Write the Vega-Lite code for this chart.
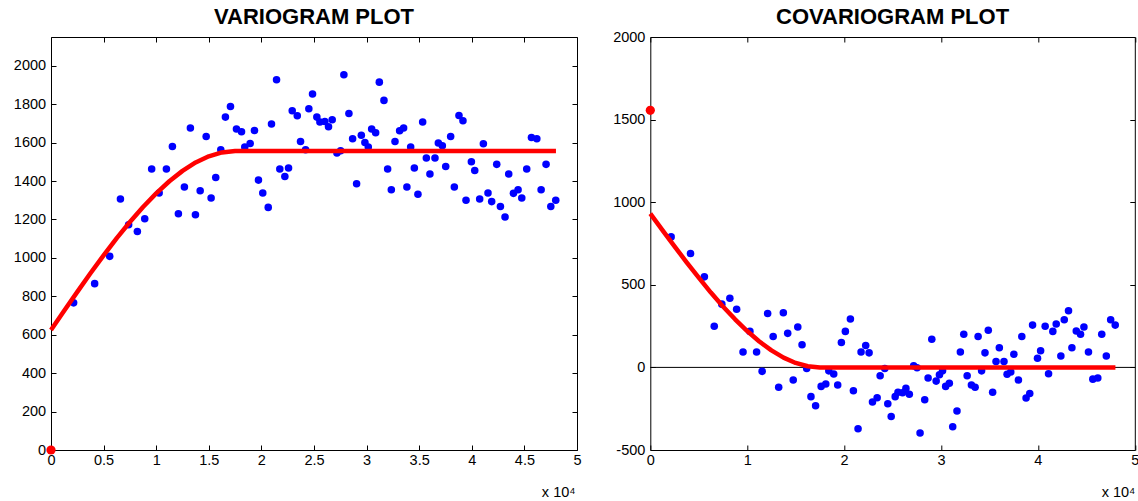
{
  "$schema": "https://vega.github.io/schema/vega-lite/v6.json",
  "background": "white",
  "padding": {"left": 12, "top": 5, "right": 0, "bottom": 0},
  "bounds": "flush",
  "spacing": 73.3,
  "config": {
    "font": "Liberation Sans",
    "view": {"stroke": "#000000", "strokeWidth": 1},
    "axis": {"grid": false, "domain": false, "tickColor": "#000000", "tickWidth": 1, "labelFont": "Liberation Sans", "labelFontSize": 14.5, "labelColor": "#000000", "labelFlush": false, "titleFont": "Liberation Sans", "titleFontWeight": "normal", "titleFontSize": 14.5, "titleColor": "#000000"},
    "title": {"font": "Liberation Sans", "fontSize": 22, "fontWeight": "bold", "color": "#000000", "anchor": "middle", "baseline": "alphabetic", "offset": 8}
  },
  "datasets": {
    "vario": [
      {"lag": 2150, "gamma": 766}, {"lag": 4150, "gamma": 866}, {"lag": 5580, "gamma": 1008}, {"lag": 6600, "gamma": 1307},
      {"lag": 7380, "gamma": 1173}, {"lag": 8210, "gamma": 1137}, {"lag": 8910, "gamma": 1204}, {"lag": 9570, "gamma": 1463},
      {"lag": 10280, "gamma": 1338}, {"lag": 10970, "gamma": 1463}, {"lag": 11540, "gamma": 1580}, {"lag": 12110, "gamma": 1230},
      {"lag": 12680, "gamma": 1369}, {"lag": 13250, "gamma": 1676}, {"lag": 13730, "gamma": 1225}, {"lag": 14180, "gamma": 1350},
      {"lag": 14750, "gamma": 1632}, {"lag": 15220, "gamma": 1312}, {"lag": 15660, "gamma": 1419}, {"lag": 16140, "gamma": 1563},
      {"lag": 16580, "gamma": 1733}, {"lag": 17060, "gamma": 1788}, {"lag": 17630, "gamma": 1671}, {"lag": 18110, "gamma": 1657},
      {"lag": 18420, "gamma": 1577}, {"lag": 18930, "gamma": 1596}, {"lag": 19340, "gamma": 1663}, {"lag": 19720, "gamma": 1405},
      {"lag": 20130, "gamma": 1338}, {"lag": 20650, "gamma": 1263}, {"lag": 20960, "gamma": 1697}, {"lag": 21440, "gamma": 1927},
      {"lag": 21750, "gamma": 1463}, {"lag": 22230, "gamma": 1424}, {"lag": 22580, "gamma": 1468}, {"lag": 22930, "gamma": 1766},
      {"lag": 23410, "gamma": 1740}, {"lag": 23720, "gamma": 1606}, {"lag": 24200, "gamma": 1563}, {"lag": 24510, "gamma": 1776},
      {"lag": 24860, "gamma": 1853}, {"lag": 25270, "gamma": 1733}, {"lag": 25560, "gamma": 1707}, {"lag": 26030, "gamma": 1710},
      {"lag": 26380, "gamma": 1683}, {"lag": 26730, "gamma": 1719}, {"lag": 27180, "gamma": 1546}, {"lag": 27530, "gamma": 1558},
      {"lag": 27840, "gamma": 1953}, {"lag": 28320, "gamma": 1752}, {"lag": 28670, "gamma": 1620}, {"lag": 29050, "gamma": 1386},
      {"lag": 29500, "gamma": 1639}, {"lag": 29840, "gamma": 1601}, {"lag": 30160, "gamma": 1577}, {"lag": 30480, "gamma": 1671},
      {"lag": 30860, "gamma": 1652}, {"lag": 31210, "gamma": 1915}, {"lag": 31650, "gamma": 1820}, {"lag": 32000, "gamma": 1463},
      {"lag": 32350, "gamma": 1355}, {"lag": 32700, "gamma": 1606}, {"lag": 33140, "gamma": 1662}, {"lag": 33520, "gamma": 1676},
      {"lag": 33830, "gamma": 1369}, {"lag": 34190, "gamma": 1577}, {"lag": 34540, "gamma": 1468}, {"lag": 34880, "gamma": 1331},
      {"lag": 35330, "gamma": 1707}, {"lag": 35680, "gamma": 1520}, {"lag": 36020, "gamma": 1437}, {"lag": 36500, "gamma": 1520},
      {"lag": 36820, "gamma": 1598}, {"lag": 37200, "gamma": 1584}, {"lag": 37520, "gamma": 1476}, {"lag": 37990, "gamma": 1632},
      {"lag": 38340, "gamma": 1369}, {"lag": 38780, "gamma": 1741}, {"lag": 39160, "gamma": 1714}, {"lag": 39450, "gamma": 1300},
      {"lag": 39960, "gamma": 1501}, {"lag": 40280, "gamma": 1455}, {"lag": 40750, "gamma": 1307}, {"lag": 41100, "gamma": 1594},
      {"lag": 41540, "gamma": 1338}, {"lag": 41890, "gamma": 1293}, {"lag": 42370, "gamma": 1487}, {"lag": 42720, "gamma": 1268},
      {"lag": 43160, "gamma": 1213}, {"lag": 43510, "gamma": 1437}, {"lag": 43960, "gamma": 1336}, {"lag": 44400, "gamma": 1355},
      {"lag": 44750, "gamma": 1312}, {"lag": 45220, "gamma": 1463}, {"lag": 45670, "gamma": 1627}, {"lag": 46180, "gamma": 1620},
      {"lag": 46590, "gamma": 1355}, {"lag": 47060, "gamma": 1487}, {"lag": 47510, "gamma": 1268}, {"lag": 47980, "gamma": 1300}
    ],
    "covario": [
      {"lag": 2150, "cov": 790}, {"lag": 4150, "cov": 690}, {"lag": 5580, "cov": 548}, {"lag": 6600, "cov": 249},
      {"lag": 7380, "cov": 383}, {"lag": 8210, "cov": 419}, {"lag": 8910, "cov": 352}, {"lag": 9570, "cov": 93},
      {"lag": 10280, "cov": 218}, {"lag": 10970, "cov": 93}, {"lag": 11540, "cov": -24}, {"lag": 12110, "cov": 326},
      {"lag": 12680, "cov": 187}, {"lag": 13250, "cov": -120}, {"lag": 13730, "cov": 331}, {"lag": 14180, "cov": 206},
      {"lag": 14750, "cov": -76}, {"lag": 15220, "cov": 244}, {"lag": 15660, "cov": 137}, {"lag": 16140, "cov": -7},
      {"lag": 16580, "cov": -177}, {"lag": 17060, "cov": -232}, {"lag": 17630, "cov": -115}, {"lag": 18110, "cov": -101},
      {"lag": 18420, "cov": -21}, {"lag": 18930, "cov": -40}, {"lag": 19340, "cov": -107}, {"lag": 19720, "cov": 151},
      {"lag": 20130, "cov": 218}, {"lag": 20650, "cov": 293}, {"lag": 20960, "cov": -141}, {"lag": 21440, "cov": -371},
      {"lag": 21750, "cov": 93}, {"lag": 22230, "cov": 132}, {"lag": 22580, "cov": 88}, {"lag": 22930, "cov": -210},
      {"lag": 23410, "cov": -184}, {"lag": 23720, "cov": -50}, {"lag": 24200, "cov": -7}, {"lag": 24510, "cov": -220},
      {"lag": 24860, "cov": -297}, {"lag": 25270, "cov": -177}, {"lag": 25560, "cov": -151}, {"lag": 26030, "cov": -154},
      {"lag": 26380, "cov": -127}, {"lag": 26730, "cov": -163}, {"lag": 27180, "cov": 10}, {"lag": 27530, "cov": -2},
      {"lag": 27840, "cov": -397}, {"lag": 28320, "cov": -196}, {"lag": 28670, "cov": -64}, {"lag": 29050, "cov": 170},
      {"lag": 29500, "cov": -83}, {"lag": 29840, "cov": -45}, {"lag": 30160, "cov": -21}, {"lag": 30480, "cov": -115},
      {"lag": 30860, "cov": -96}, {"lag": 31210, "cov": -359}, {"lag": 31650, "cov": -264}, {"lag": 32000, "cov": 93},
      {"lag": 32350, "cov": 201}, {"lag": 32700, "cov": -50}, {"lag": 33140, "cov": -106}, {"lag": 33520, "cov": -120},
      {"lag": 33830, "cov": 187}, {"lag": 34190, "cov": -21}, {"lag": 34540, "cov": 88}, {"lag": 34880, "cov": 225},
      {"lag": 35330, "cov": -151}, {"lag": 35680, "cov": 36}, {"lag": 36020, "cov": 119}, {"lag": 36500, "cov": 36},
      {"lag": 36820, "cov": -42}, {"lag": 37200, "cov": -28}, {"lag": 37520, "cov": 80}, {"lag": 37990, "cov": -76},
      {"lag": 38340, "cov": 187}, {"lag": 38780, "cov": -185}, {"lag": 39160, "cov": -158}, {"lag": 39450, "cov": 256},
      {"lag": 39960, "cov": 55}, {"lag": 40280, "cov": 101}, {"lag": 40750, "cov": 249}, {"lag": 41100, "cov": -38},
      {"lag": 41540, "cov": 218}, {"lag": 41890, "cov": 263}, {"lag": 42370, "cov": 69}, {"lag": 42720, "cov": 288},
      {"lag": 43160, "cov": 343}, {"lag": 43510, "cov": 119}, {"lag": 43960, "cov": 220}, {"lag": 44400, "cov": 201},
      {"lag": 44750, "cov": 244}, {"lag": 45220, "cov": 93}, {"lag": 45670, "cov": -71}, {"lag": 46180, "cov": -64},
      {"lag": 46590, "cov": 201}, {"lag": 47060, "cov": 69}, {"lag": 47510, "cov": 288}, {"lag": 47980, "cov": 256}
    ],
    "variomodel": [
      {"lag": 0, "gamma": 625}, {"lag": 1250, "gamma": 725}, {"lag": 2500, "gamma": 823}, {"lag": 3750, "gamma": 920},
      {"lag": 5000, "gamma": 1013}, {"lag": 6250, "gamma": 1103}, {"lag": 7500, "gamma": 1187}, {"lag": 8750, "gamma": 1265},
      {"lag": 10000, "gamma": 1336}, {"lag": 11250, "gamma": 1399}, {"lag": 12500, "gamma": 1453}, {"lag": 13750, "gamma": 1497},
      {"lag": 15000, "gamma": 1529}, {"lag": 16250, "gamma": 1549}, {"lag": 17500, "gamma": 1556}, {"lag": 48000, "gamma": 1556}
    ],
    "covmodel": [
      {"lag": 0, "cov": 931}, {"lag": 1250, "cov": 831}, {"lag": 2500, "cov": 733}, {"lag": 3750, "cov": 636},
      {"lag": 5000, "cov": 543}, {"lag": 6250, "cov": 453}, {"lag": 7500, "cov": 369}, {"lag": 8750, "cov": 291},
      {"lag": 10000, "cov": 220}, {"lag": 11250, "cov": 157}, {"lag": 12500, "cov": 103}, {"lag": 13750, "cov": 59},
      {"lag": 15000, "cov": 27}, {"lag": 16250, "cov": 7}, {"lag": 17500, "cov": 0}, {"lag": 48000, "cov": 0}
    ],
    "vario0": [{"lag": 0, "gamma": 0}],
    "cov0": [{"lag": 0, "cov": 1556}],
    "zero": [{"cov": 0}]
  },
  "hconcat": [
    {
      "width": 526,
      "height": 413,
      "title": {"text": "VARIOGRAM PLOT", "offset": 8},
      "resolve": {"axis": {"x": "independent", "y": "independent"}},
      "layer": [
        {
          "data": {"name": "vario"},
          "mark": {"type": "circle", "size": 57, "color": "#0000ff", "opacity": 1},
          "encoding": {
            "x": {"field": "lag", "type": "quantitative", "scale": {"domain": [0, 50000], "nice": false, "zero": false},
              "axis": {"orient": "bottom", "ticks": false, "labelPadding": 14, "labelBaseline": "alphabetic", "labelFlush": false,
                "values": [0, 5000, 10000, 15000, 20000, 25000, 30000, 35000, 40000, 45000, 50000],
                "labelExpr": "'' + datum.value / 10000",
                "title": "x 10⁴", "titleAnchor": "end", "titleAlign": "right", "titleBaseline": "alphabetic", "titleX": 524, "titleY": 46.5}},
            "y": {"field": "gamma", "type": "quantitative", "scale": {"domain": [0, 2150], "nice": false, "zero": false},
              "axis": {"orient": "left", "ticks": false, "labelPadding": 5.4, "labelFlush": false,
                "values": [0, 200, 400, 600, 800, 1000, 1200, 1400, 1600, 1800, 2000],
                "labelExpr": "'' + datum.value", "title": null}}
          }
        },
        {
          "data": {"name": "variomodel"},
          "mark": {"type": "line", "color": "#ff0000", "strokeWidth": 4.5, "strokeJoin": "round"},
          "encoding": {
            "x": {"field": "lag", "type": "quantitative",
              "axis": {"orient": "top", "labels": false, "tickSize": -5, "title": null,
                "values": [0, 5000, 10000, 15000, 20000, 25000, 30000, 35000, 40000, 45000, 50000]}},
            "y": {"field": "gamma", "type": "quantitative",
              "axis": {"orient": "right", "labels": false, "tickSize": -5, "title": null,
                "values": [0, 200, 400, 600, 800, 1000, 1200, 1400, 1600, 1800, 2000]}}
          }
        },
        {
          "data": {"name": "vario0"},
          "mark": {"type": "circle", "size": 85, "color": "#ff0000", "opacity": 1},
          "encoding": {
            "x": {"field": "lag", "type": "quantitative",
              "axis": {"orient": "bottom", "labels": false, "tickSize": -5, "title": null,
                "values": [0, 5000, 10000, 15000, 20000, 25000, 30000, 35000, 40000, 45000, 50000]}},
            "y": {"field": "gamma", "type": "quantitative",
              "axis": {"orient": "left", "labels": false, "tickSize": -5, "title": null,
                "values": [0, 200, 400, 600, 800, 1000, 1200, 1400, 1600, 1800, 2000]}}
          }
        }
      ]
    },
    {
      "width": 484.5,
      "height": 413,
      "title": {"text": "COVARIOGRAM PLOT", "offset": 0},
      "resolve": {"axis": {"x": "independent", "y": "independent"}},
      "layer": [
        {
          "data": {"name": "zero"},
          "mark": {"type": "rule", "color": "#000000", "strokeWidth": 1},
          "encoding": {
            "y": {"field": "cov", "type": "quantitative", "axis": null}
          }
        },
        {
          "data": {"name": "covario"},
          "mark": {"type": "circle", "size": 57, "color": "#0000ff", "opacity": 1},
          "encoding": {
            "x": {"field": "lag", "type": "quantitative", "scale": {"domain": [0, 50000], "nice": false, "zero": false},
              "axis": {"orient": "bottom", "ticks": false, "labelPadding": 14, "labelBaseline": "alphabetic", "labelFlush": false,
                "values": [0, 10000, 20000, 30000, 40000, 50000],
                "labelExpr": "'' + datum.value / 10000",
                "title": "x 10⁴", "titleAnchor": "end", "titleAlign": "right", "titleBaseline": "alphabetic", "titleX": 484.5, "titleY": 46.5}},
            "y": {"field": "cov", "type": "quantitative", "scale": {"domain": [-500, 2000], "nice": false, "zero": false},
              "axis": {"orient": "left", "ticks": false, "labelPadding": 5.4, "labelFlush": false,
                "values": [-500, 0, 500, 1000, 1500, 2000],
                "labelExpr": "'' + datum.value", "title": null}}
          }
        },
        {
          "data": {"name": "covmodel"},
          "mark": {"type": "line", "color": "#ff0000", "strokeWidth": 4.5, "strokeJoin": "round"},
          "encoding": {
            "x": {"field": "lag", "type": "quantitative",
              "axis": {"orient": "top", "labels": false, "tickSize": -5, "title": null,
                "values": [0, 10000, 20000, 30000, 40000, 50000]}},
            "y": {"field": "cov", "type": "quantitative",
              "axis": {"orient": "right", "labels": false, "tickSize": -5, "title": null,
                "values": [-500, 0, 500, 1000, 1500, 2000]}}
          }
        },
        {
          "data": {"name": "cov0"},
          "mark": {"type": "circle", "size": 85, "color": "#ff0000", "opacity": 1},
          "encoding": {
            "x": {"field": "lag", "type": "quantitative",
              "axis": {"orient": "bottom", "labels": false, "tickSize": -5, "title": null,
                "values": [0, 10000, 20000, 30000, 40000, 50000]}},
            "y": {"field": "cov", "type": "quantitative",
              "axis": {"orient": "left", "labels": false, "tickSize": -5, "title": null,
                "values": [-500, 0, 500, 1000, 1500, 2000]}}
          }
        }
      ]
    }
  ]
}
